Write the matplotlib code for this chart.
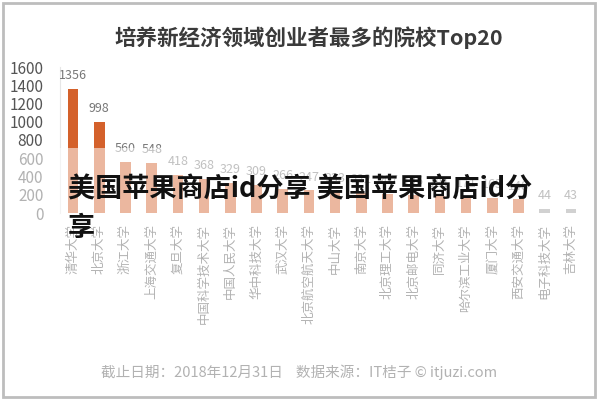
import matplotlib
matplotlib.use('Agg')
import matplotlib.pyplot as plt
from matplotlib.patches import Rectangle

plt.rcParams['font.family'] = ['Noto Sans CJK SC', 'DejaVu Sans']

schools = ['清华大学', '北京大学', '浙江大学', '上海交通大学', '复旦大学',
           '中国科学技术大学', '中国人民大学', '华中科技大学', '武汉大学', '北京航空航天大学',
           '中山大学', '南京大学', '北京理工大学', '北京邮电大学', '同济大学',
           '哈尔滨工业大学', '厦门大学', '西安交通大学', '电子科技大学', '吉林大学']
counts = [1356, 998, 560, 548, 418, 368, 329, 309, 266, 247,
          233, 222, 207, 196, 181, 171, 163, 148, 44, 43]
yticks = [0, 200, 400, 600, 800, 1000, 1200, 1400, 1600]

title = '培养新经济领域创业者最多的院校Top20'
footer = '截止日期：2018年12月31日    数据来源：IT桔子 © itjuzi.com'
overlay = '美国苹果商店id分享 美国苹果商店id分'
overlay2 = '享'

fig = plt.figure(figsize=(6, 4), dpi=100)
ax = fig.add_axes([60/600, 187/400, 524/600, 146/400])

colors = ['#d4612b'] * 18 + ['#9a9a9a'] * 2
x = list(range(len(counts)))
ax.bar(x, counts, width=0.4, color=colors)
for xi, v in zip(x, counts):
    ax.annotate(str(v), (xi, v), xytext=(0, 5), textcoords='offset points',
                ha='center', va='bottom', fontsize=9, color='#777777')

ax.set_xlim(-0.5, len(counts) - 0.5)
ax.set_ylim(0, 1600)
ax.set_yticks(yticks)
ax.set_yticklabels([str(t) for t in yticks], fontsize=11, color='#555555')
ax.tick_params(axis='y', length=0, pad=12)
ax.set_xticks(x)
ax.set_xticklabels(schools, rotation=90, fontsize=9, color='#555555', va='top')
ax.tick_params(axis='x', length=0, pad=8)
for s in ['top', 'right', 'bottom']:
    ax.spines[s].set_visible(False)
ax.spines['left'].set_color('#e6e6e6')

fig.text(309/600, 1 - 38/400, title, ha='center', va='center',
         fontsize=15.5, fontweight='bold', color='#3a3a3a')
fig.text(299/600, 1 - 372/400, footer, ha='center', va='center',
         fontsize=10.5, color='#555555')

# washed-out lower part of the image
fig.patches.append(Rectangle((8/600, 5/400), 582/600, 247/400, transform=fig.transFigure,
                             facecolor='white', alpha=0.55, edgecolor='none', zorder=5))
# image frame
fig.patches.append(Rectangle((3/600, 3/400), 592/600, 394/400, transform=fig.transFigure,
                             facecolor='none', edgecolor='#bdbdbd', linewidth=2, zorder=6))

fig.text(68/600, 1 - 190/400, overlay, ha='left', va='center', fontsize=19.5,
         fontweight='bold', color='#111111', zorder=7)
fig.text(68/600, 1 - 228/400, overlay2, ha='left', va='center', fontsize=19.5,
         fontweight='bold', color='#111111', zorder=7)

fig.savefig('out.png', dpi=100)
